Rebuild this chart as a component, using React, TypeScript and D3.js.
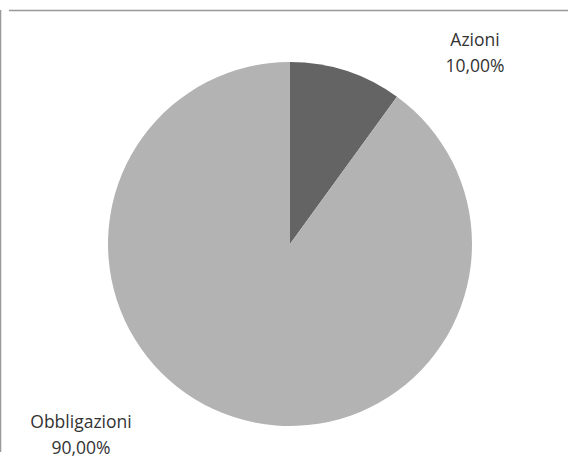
import React from "react";
import * as d3 from "d3";

const categories = ["Azioni", "Obbligazioni"];
const values = [10, 90];
const percentLabels = ["10,00%", "90,00%"];
const colors = ["#646464", "#b3b3b3"];

export default function App() {
  const width = 568;
  const height = 468;
  const cx = 290;
  const cy = 244;
  const r = 182;
  const pie = d3.pie<number>().sort(null).value((d) => d);
  const arcs = pie(values);
  const arcGen = d3.arc<d3.PieArcDatum<number>>().innerRadius(0).outerRadius(r);
  const labelPos = [
    { x: 475, y: 46 },
    { x: 81, y: 428 },
  ];
  return (
    <svg
      width={width}
      height={height}
      style={{ position: "absolute", left: 0, top: 0 }}
    >
      <rect width={width} height={height} fill="#fff" />
      <line x1={9} x2={568} y1={10.5} y2={10.5} stroke="#999" strokeWidth={1.5} />
      <line x1={0.5} x2={0.5} y1={10} y2={452} stroke="#999" strokeWidth={1.5} />
      <g transform={`translate(${cx},${cy})`}>
        {arcs.map((a, i) => (
          <path key={categories[i]} d={arcGen(a) || ""} fill={colors[i]} />
        ))}
      </g>
      {categories.map((c, i) => (
        <text
          key={c}
          x={labelPos[i].x}
          textAnchor="middle"
          fontFamily="'Open Sans', sans-serif"
          fontSize={17.5}
          fill="#333"
        >
          <tspan x={labelPos[i].x} y={labelPos[i].y}>{c}</tspan>
          <tspan x={labelPos[i].x} y={labelPos[i].y + 26}>{percentLabels[i]}</tspan>
        </text>
      ))}
    </svg>
  );
}
